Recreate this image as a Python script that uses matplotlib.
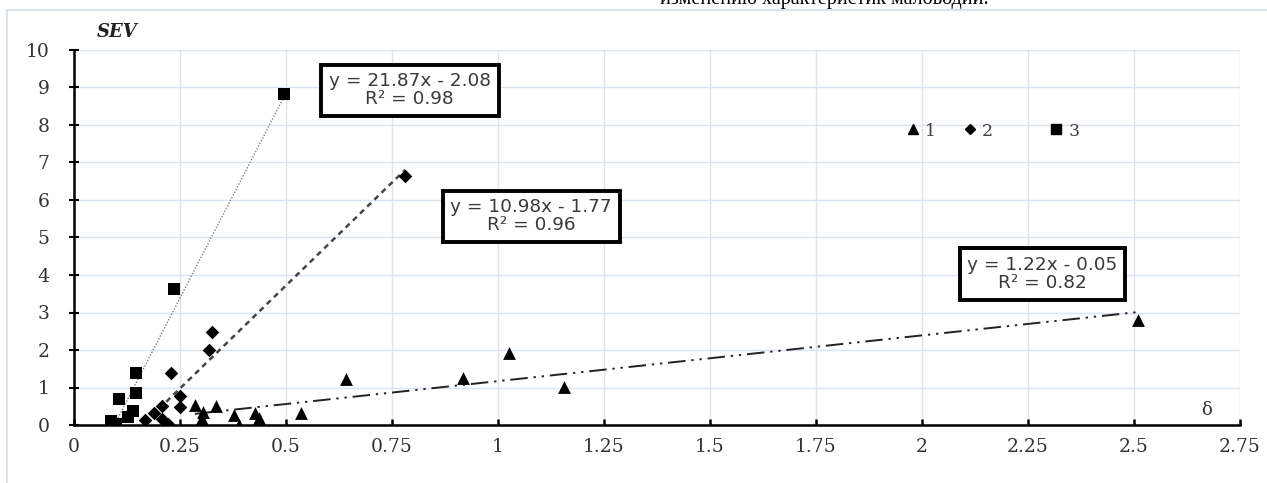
import matplotlib
matplotlib.use("Agg")
import matplotlib.pyplot as plt
from matplotlib.lines import Line2D
from matplotlib.patches import Rectangle
import numpy as np

# ---- data ----
x1 = [0.285, 0.305, 0.335, 0.301, 0.300, 0.307, 0.377, 0.388, 0.427, 0.437, 0.535,
      0.642, 0.917, 1.026, 1.156, 2.51]
y1 = [0.53, 0.36, 0.51, 0.09, 0.13, 0.05, 0.27, 0.00, 0.33, 0.18, 0.33,
      1.23, 1.25, 1.92, 1.01, 2.80]

x2 = [0.167, 0.189, 0.208, 0.208, 0.222, 0.229, 0.251, 0.251, 0.318, 0.325, 0.781]
y2 = [0.13, 0.31, 0.52, 0.15, 0.04, 1.40, 0.77, 0.47, 2.00, 2.48, 6.64]

x3 = [0.087, 0.100, 0.106, 0.128, 0.138, 0.146, 0.146, 0.236, 0.495]
y3 = [0.11, 0.03, 0.70, 0.22, 0.38, 0.86, 1.38, 3.63, 8.83]

series_names = ["1", "2", "3"]
slopes = [1.22, 10.98, 21.87]
intercepts = [-0.05, -1.77, -2.08]
eq_labels = ["y = 1.22x - 0.05\nR² = 0.82",
             "y = 10.98x - 1.77\nR² = 0.96",
             "y = 21.87x - 2.08\nR² = 0.98"]

xticks = [0, 0.25, 0.5, 0.75, 1, 1.25, 1.5, 1.75, 2, 2.25, 2.5, 2.75]
xticklabels = ["0", "0.25", "0.5", "0.75", "1", "1.25", "1.5", "1.75", "2", "2.25", "2.5", "2.75"]
yticks = list(range(0, 11))

W, H = 1267, 483
fig = plt.figure(figsize=(W / 100, H / 100), dpi=100)
ax = fig.add_axes([74 / W, 1 - 425 / H, (1240 - 74) / W, (425 - 50) / H])

# outer light frame
fig.patches.append(Rectangle((7 / W, -0.1), 2.0, 1 - 10 / H + 0.1, transform=fig.transFigure,
                             fill=False, edgecolor="#d3dde9", linewidth=1.2, zorder=0))

grid_c = "#dae4f0"
ax.set_xlim(0, 2.75)
ax.set_ylim(0, 10)
ax.set_xticks(xticks)
ax.set_xticklabels(xticklabels)
ax.set_yticks(yticks)
ax.grid(True, color=grid_c, linewidth=1.0)
ax.set_axisbelow(True)
for s in ["top", "right"]:
    ax.spines[s].set_visible(False)
for s in ["left", "bottom"]:
    ax.spines[s].set_linewidth(1.8)
    ax.spines[s].set_color("black")

for lab in ax.get_xticklabels() + ax.get_yticklabels():
    lab.set_fontfamily("DejaVu Serif")
    lab.set_fontsize(13.5)
    lab.set_color("#333333")
ax.tick_params(axis="x", direction="in", length=4, width=1.8, pad=9)
ax.tick_params(axis="y", direction="inout", length=7, width=1.5, pad=14)

# trend lines
styles = [dict(color="#222222", lw=1.4, ls=(0, (9, 3, 1.2, 3, 1.2, 3))),
          dict(color="#444444", lw=1.8, ls=(0, (2.2, 1.8))),
          dict(color="#808080", lw=1.0, ls=(0, (1, 1.2)))]
data = [(x1, y1), (x2, y2), (x3, y3)]
for (xs, ys), k, b, st in zip(data, slopes, intercepts, styles):
    xx = np.array([min(xs), max(xs)])
    ax.plot(xx, k * xx + b, zorder=2, **st)

# markers
ax.scatter(x1, y1, marker="^", s=85, color="black", zorder=3, linewidths=0)
ax.scatter(x2, y2, marker="D", s=48, color="black", zorder=3, linewidths=0)
ax.scatter(x3, y3, marker="s", s=72, color="black", zorder=3, linewidths=0)

# equation boxes
box = dict(boxstyle="square,pad=0.42", fc="white", ec="black", lw=2.8)
kw = dict(ha="center", va="center", fontsize=13.3, color="#3a3a3a", bbox=box,
          zorder=5, linespacing=1.0, family="DejaVu Sans")
ax.text(2.284, 4.03, eq_labels[0], **kw)
ax.text(1.078, 5.56, eq_labels[1], **kw)
ax.text(0.792, 8.92, eq_labels[2], **kw)

# legends (three single entries)
handles = [Line2D([], [], marker="^", ls="none", color="black", markersize=7),
           Line2D([], [], marker="D", ls="none", color="black", markersize=4.8),
           Line2D([], [], marker="s", ls="none", color="black", markersize=6.5)]
marker_px = [913, 970, 1056]
fs = 12.5
for h, name, mx in zip(handles, series_names, marker_px):
    hl = 0.8
    left = mx - hl * fs * 100 / 72 / 2
    leg = fig.legend([h], [name], loc="center left",
                     bbox_to_anchor=(left / W, 1 - 131 / H), frameon=False,
                     handlelength=hl, handletextpad=0.3, borderpad=0, borderaxespad=0,
                     prop=dict(family="DejaVu Serif", size=fs))
    for t in leg.get_texts():
        t.set_color("#404040")

# axis labels
fig.text(97 / W, 1 - 32 / H, "SEV", family="DejaVu Serif", fontweight="bold",
         fontstyle="italic", fontsize=13, ha="left", va="center", color="#222222")
fig.text(1207 / W, 1 - 410 / H, "δ", family="DejaVu Serif", fontsize=13,
         ha="center", va="center", color="#333333")

# clipped caption text at the very top
fig.text(660 / W, 1 - 4 / H, "изменению характеристик маловодий.", family="Liberation Serif",
         fontsize=14.5, ha="left", va="baseline", color="black")

fig.savefig("out.png", dpi=100)
